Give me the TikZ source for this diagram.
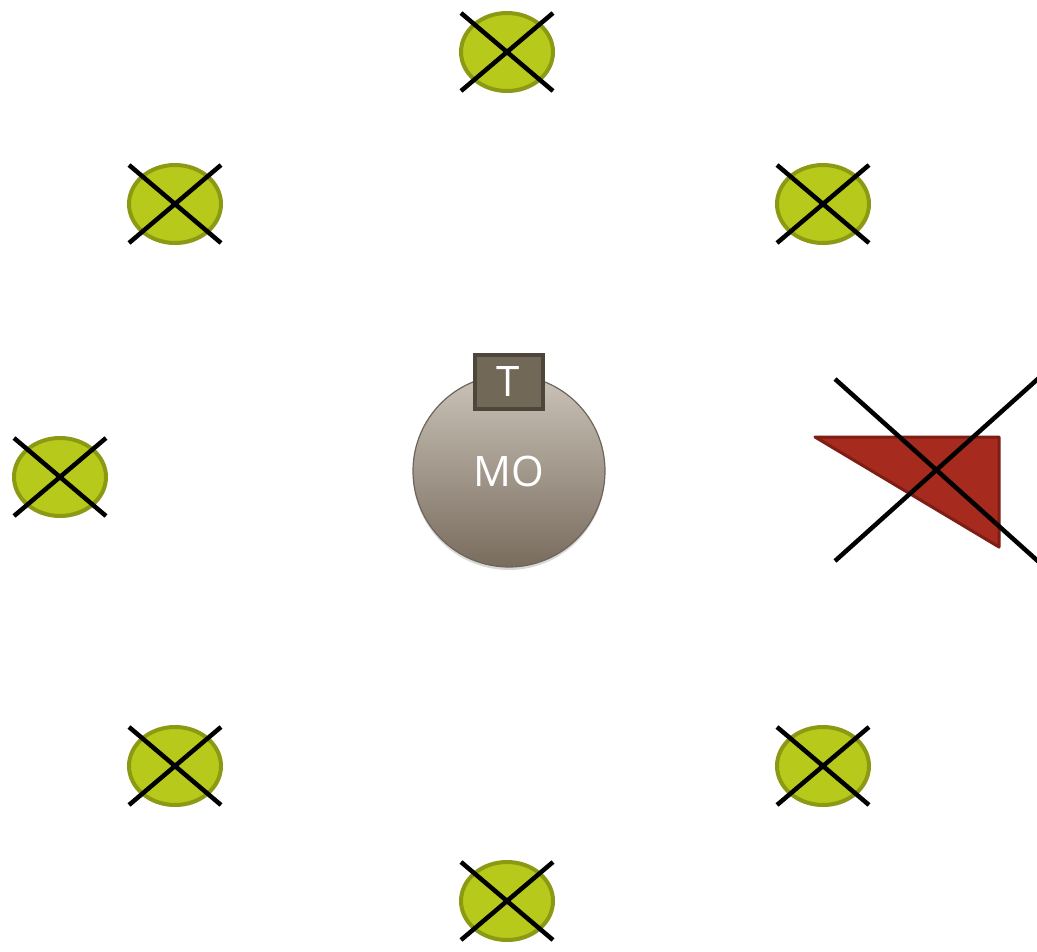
\documentclass[tikz,border=0pt]{standalone}
\usepackage{fontspec}
\setmainfont{Open Sans}
\usetikzlibrary{shadows,shapes.geometric,calc}
\definecolor{gfill}{HTML}{B7C91B}
\definecolor{gline}{HTML}{8B9A12}
\definecolor{mtop}{HTML}{CBC3B9}
\definecolor{mbot}{HTML}{786C5D}
\definecolor{mline}{HTML}{6E655A}
\definecolor{tfill}{HTML}{716858}
\definecolor{tline}{HTML}{4F463B}
\definecolor{rfill}{HTML}{A62A1E}
\definecolor{rline}{HTML}{7E1D14}
\tikzset{
  blob/.style={ellipse, minimum width=92pt, minimum height=78pt, fill=gfill, draw=gline, line width=4pt, inner sep=0pt,
    drop shadow={shadow xshift=1pt, shadow yshift=-2pt, opacity=0.25}},
  xline/.style={line width=4.5pt, black},
}
\begin{document}
\begin{tikzpicture}[x=1pt,y=-1pt]
\useasboundingbox (0,0) rectangle (1037,952);
\clip (0,0) rectangle (1037,952);
% green blobs with crosses
\foreach \n/\cx/\cy in {t/507/52, tl/175/204, tr/823/204, l/60/477, bl/175/766, br/823/766, b/507/901}{
  \node[blob] (\n) at (\cx,\cy) {};
  \draw[xline] ($(\n.center)+(-46,-39)$) -- ($(\n.center)+(46,39)$);
  \draw[xline] ($(\n.center)+(46,-39)$) -- ($(\n.center)+(-46,39)$);
}
% MO circle
\node[circle, minimum size=192pt, inner sep=0pt, draw=mline, line width=1.2pt, top color=mtop, bottom color=mbot,
  drop shadow={shadow xshift=0pt, shadow yshift=-3pt, opacity=0.3}, text=white, font=\fontsize{42}{42}\selectfont] (mo) at (509,471) {MO};
\node[rectangle, minimum width=68pt, minimum height=54pt, fill=tfill, draw=tline, line width=4pt, text=white,
  font=\fontsize{42}{42}\selectfont, inner sep=0pt] (tb) at (508.5,381.5) {T};
% red triangle
\coordinate (r1) at (815,437);
\coordinate (r2) at (999,437);
\coordinate (r3) at (999,547);
\fill[rfill, draw=rline, line width=3pt, line join=round, drop shadow={shadow xshift=1pt, shadow yshift=-2pt, opacity=0.25}] (r1) -- (r2) -- (r3) -- cycle;
\coordinate (ra) at (835,379);
\coordinate (rb) at (1040,563);
\coordinate (rc) at (835,561);
\coordinate (rd) at (1040,377);
\draw[xline] (ra) -- (rb);
\draw[xline] (rc) -- (rd);
\end{tikzpicture}
\end{document}
